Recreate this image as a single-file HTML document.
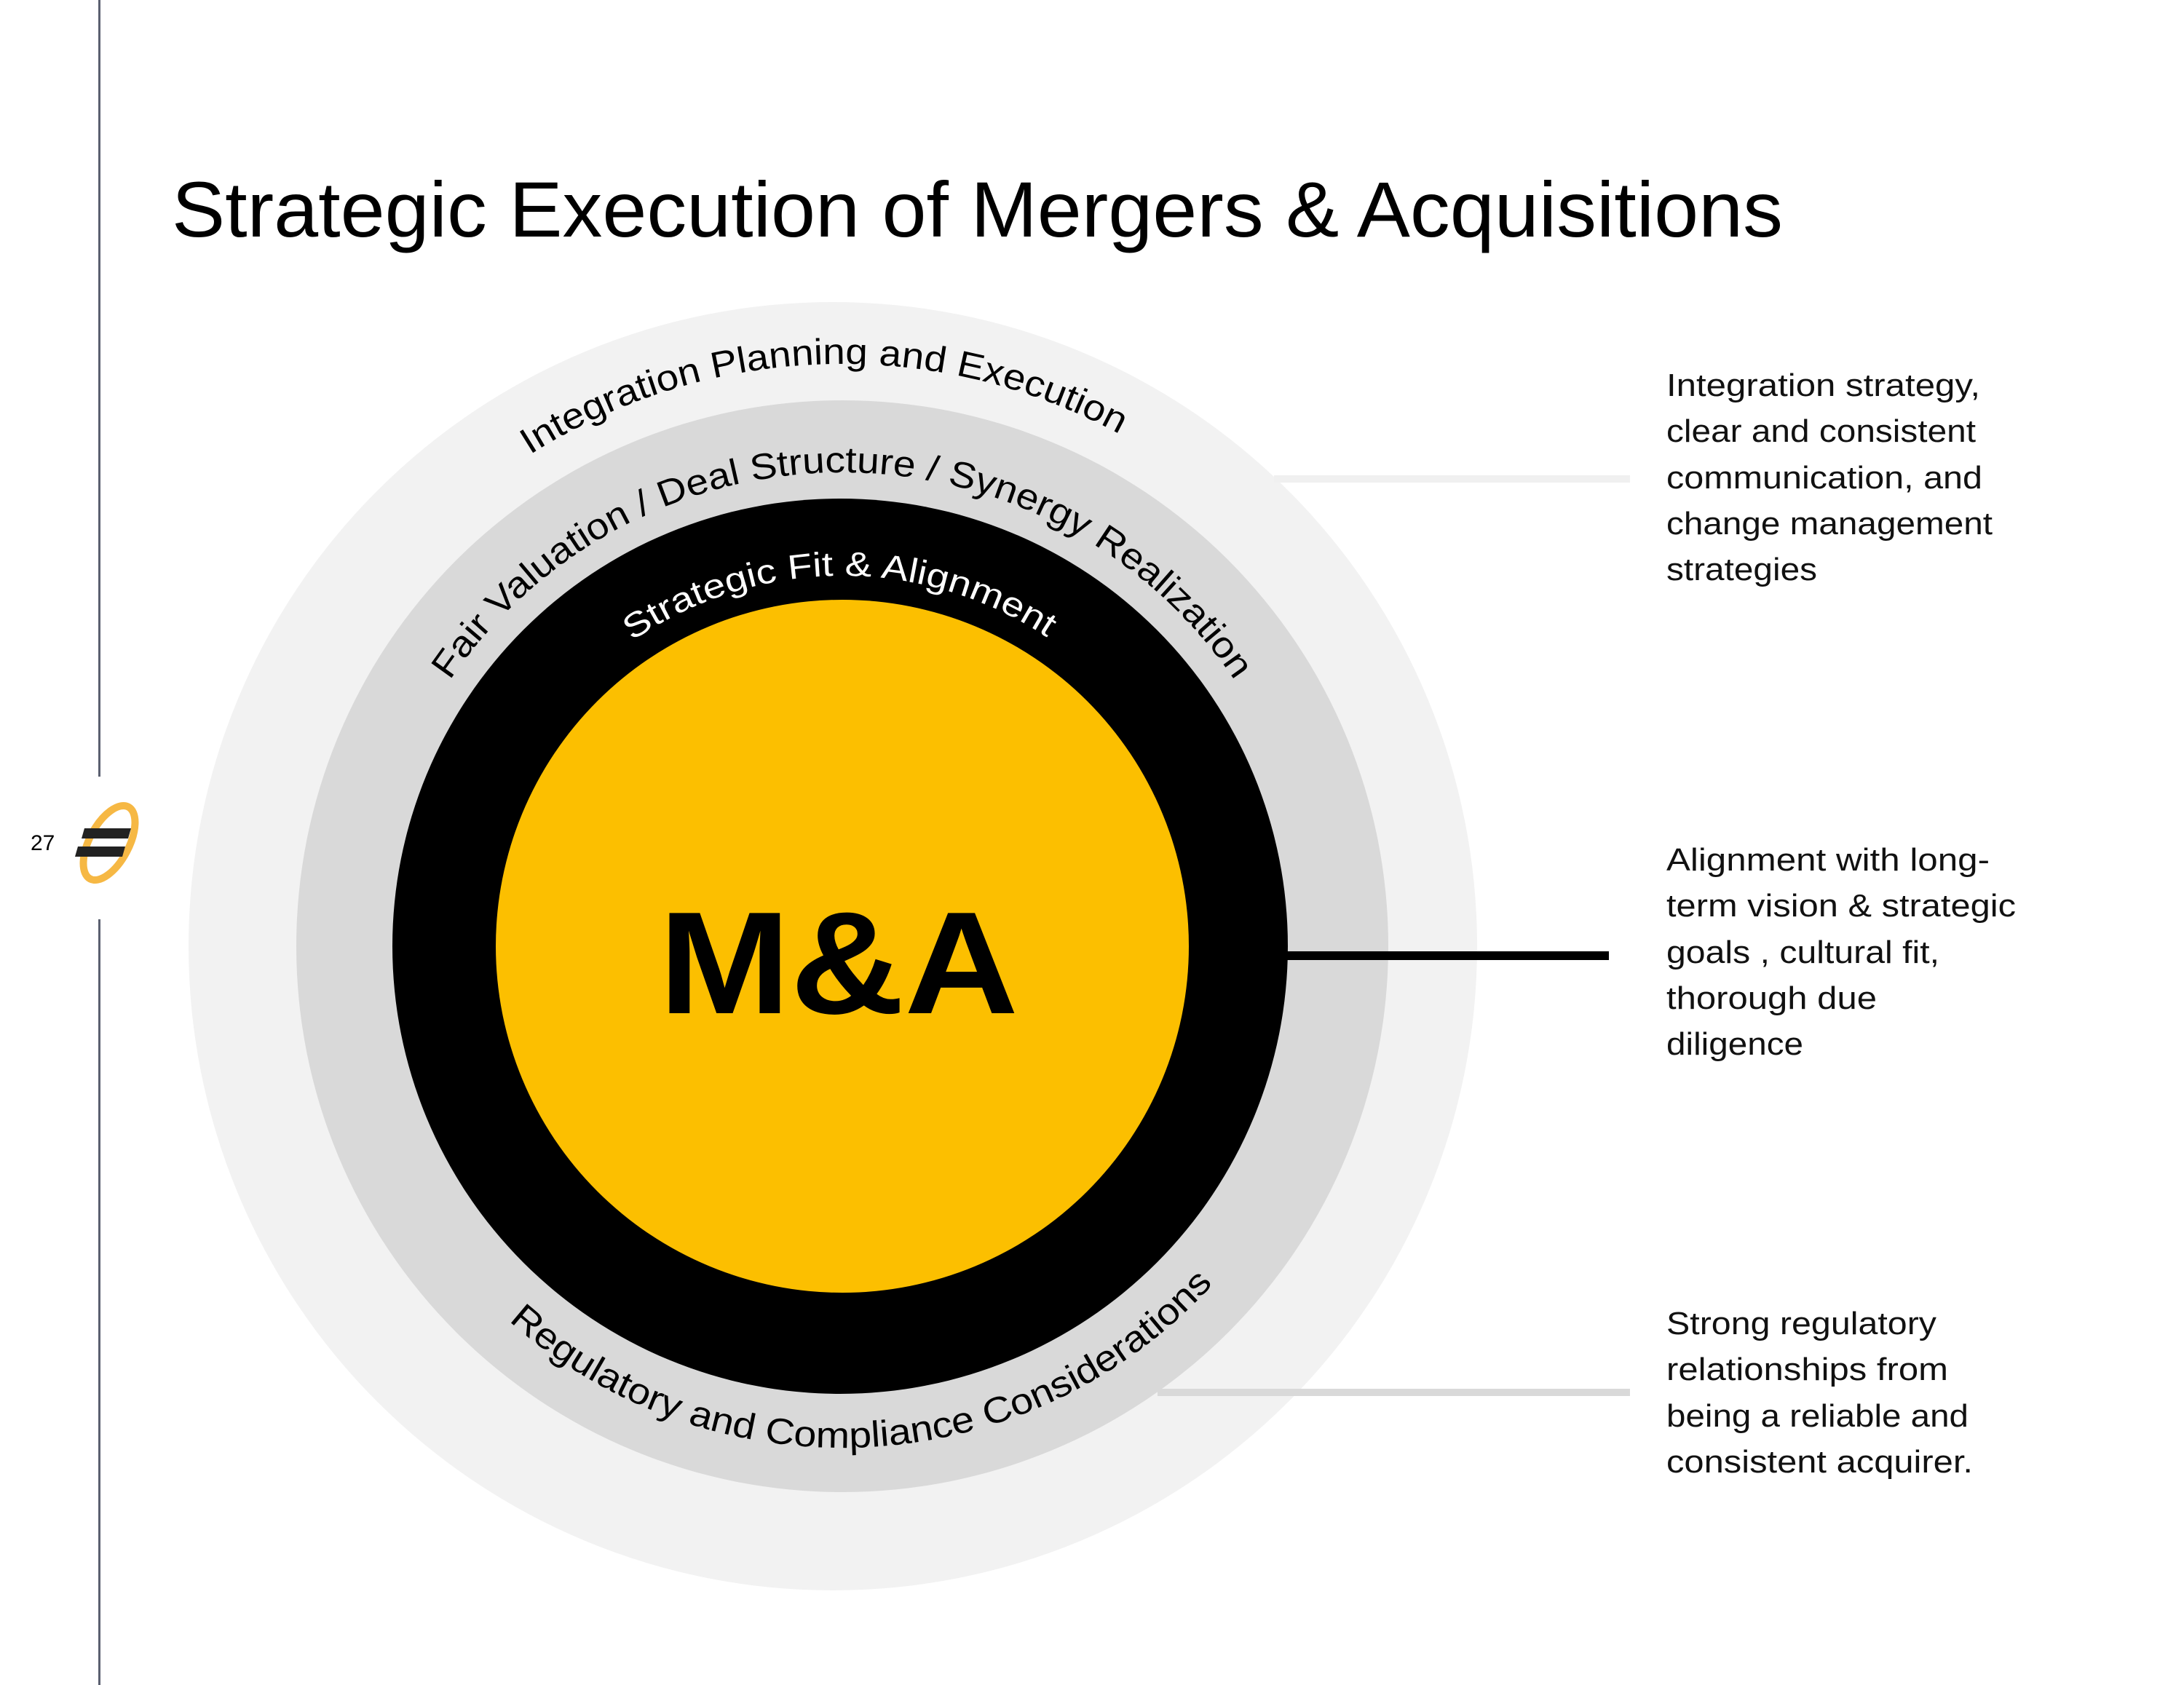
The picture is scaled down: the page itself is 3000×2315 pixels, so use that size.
<!DOCTYPE html>
<html><head><meta charset="utf-8"><style>
html,body{margin:0;padding:0;background:#fff;}
svg{display:block;}
text{font-family:"Liberation Sans",sans-serif;}
</style></head><body>
<svg width="3000" height="2315" viewBox="0 0 3000 2315" xmlns="http://www.w3.org/2000/svg">
<defs>
<path id="pInt" d="M357,1300 A800,800 0 0 1 1957,1300"/>
<path id="pFair" d="M506,1300 A651,651 0 0 1 1808,1300"/>
<path id="pStrat" d="M648,1300 A509,509 0 0 1 1666,1300"/>
<path id="pReg" d="M468,1300 A689,689 0 0 0 1846,1300"/>
</defs>
<!-- left rule -->
<rect x="135" y="0" width="3" height="1067" fill="#5b6070"/>
<rect x="135" y="1263" width="3" height="1052" fill="#5b6070"/>
<text x="42" y="1168" font-size="30" fill="#000">27</text>
<!-- logo -->
<g transform="translate(150,1158) rotate(28)">
<ellipse cx="0" cy="0" rx="27" ry="56" fill="none" stroke="#f6b844" stroke-width="10"/>
</g>
<polygon points="116,1138 180,1138 176,1152 112,1152" fill="#222"/>
<polygon points="107,1163 172,1163 168,1177 103,1177" fill="#222"/>

<!-- title -->
<text x="236" y="325" font-size="108" fill="#000" textLength="2213" lengthAdjust="spacingAndGlyphs">Strategic Execution of Mergers &amp; Acquisitions</text>

<!-- circles -->
<circle cx="1144" cy="1300" r="885" fill="#f2f2f2"/>
<circle cx="1157" cy="1300" r="750" fill="#d9d9d9"/>
<circle cx="1154" cy="1300" r="615" fill="#000"/>
<circle cx="1157" cy="1300" r="476" fill="#fcbf00"/>
<rect x="1767" y="1307" width="443" height="12" fill="#000"/>

<rect x="1750" y="653" width="489" height="10" fill="#f0f0f0"/>
<rect x="1590" y="1908" width="649" height="10" fill="#d9d9d9"/>

<text x="1152" y="1392" font-size="200" font-weight="bold" fill="#000" text-anchor="middle" textLength="494" lengthAdjust="spacingAndGlyphs">M&amp;A</text>

<g transform="rotate(-2,1157,1300)">
<text font-size="50" fill="#000"><textPath href="#pInt" startOffset="50%" text-anchor="middle" textLength="850" lengthAdjust="spacingAndGlyphs">Integration Planning and Execution</textPath></text>
</g>
<text font-size="50" fill="#000"><textPath href="#pFair" startOffset="50%" text-anchor="middle" textLength="1270" lengthAdjust="spacingAndGlyphs">Fair Valuation / Deal Structure / Synergy Realization</textPath></text>
<g transform="rotate(-0.5,1157,1300)">
<text font-size="47" fill="#fff"><textPath href="#pStrat" startOffset="50%" text-anchor="middle" textLength="605" lengthAdjust="spacingAndGlyphs">Strategic Fit &amp; Alignment</textPath></text>
</g>
<g transform="rotate(-3,1157,1300)">
<text font-size="50" fill="#000"><textPath href="#pReg" startOffset="50%" text-anchor="middle" textLength="1075" lengthAdjust="spacingAndGlyphs">Regulatory and Compliance Considerations</textPath></text>
</g>

<!-- right text -->
<g font-size="44" fill="#111">
<text x="2289" y="544" textLength="431" lengthAdjust="spacingAndGlyphs">Integration strategy,</text>
<text x="2289" y="607" textLength="425" lengthAdjust="spacingAndGlyphs">clear and consistent</text>
<text x="2289" y="671" textLength="434" lengthAdjust="spacingAndGlyphs">communication, and</text>
<text x="2289" y="734" textLength="448" lengthAdjust="spacingAndGlyphs">change management</text>
<text x="2289" y="797" textLength="207" lengthAdjust="spacingAndGlyphs">strategies</text>

<text x="2289" y="1196" textLength="444" lengthAdjust="spacingAndGlyphs">Alignment with long-</text>
<text x="2289" y="1259" textLength="480" lengthAdjust="spacingAndGlyphs">term vision &amp; strategic</text>
<text x="2289" y="1323" textLength="375" lengthAdjust="spacingAndGlyphs">goals , cultural fit,</text>
<text x="2289" y="1386" textLength="289" lengthAdjust="spacingAndGlyphs">thorough due</text>
<text x="2289" y="1449" textLength="188" lengthAdjust="spacingAndGlyphs">diligence</text>

<text x="2289" y="1833" textLength="371" lengthAdjust="spacingAndGlyphs">Strong regulatory</text>
<text x="2289" y="1896" textLength="387" lengthAdjust="spacingAndGlyphs">relationships from</text>
<text x="2289" y="1960" textLength="415" lengthAdjust="spacingAndGlyphs">being a reliable and</text>
<text x="2289" y="2023" textLength="421" lengthAdjust="spacingAndGlyphs">consistent acquirer.</text>
</g>
</svg>
</body></html>
